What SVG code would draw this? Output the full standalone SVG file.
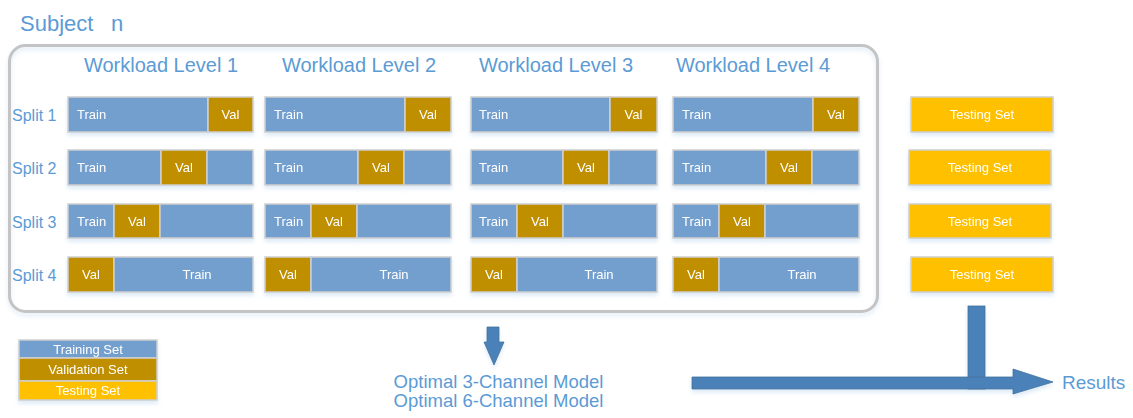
<svg xmlns="http://www.w3.org/2000/svg" width="1133" height="418" viewBox="0 0 1133 418">
<defs>
<filter id="sh" x="-10%" y="-20%" width="120%" height="160%">
<feDropShadow dx="0" dy="3" stdDeviation="2" flood-color="#9dc3e6" flood-opacity="0.35"/>
</filter>
<style>
.tr{fill:#739fcf;stroke:#cfcfcf;stroke-width:1.5}
.va{fill:#bf8f00;stroke:#cfcfcf;stroke-width:1.5}
.te{fill:#ffc000;stroke:#cfcfcf;stroke-width:1.5}
.bt{font-family:"Liberation Sans",Arial,sans-serif;font-size:13px;fill:#ffffff}
.lt{font-family:"Liberation Sans",Arial,sans-serif;fill:#5b9bd5}
.arr{fill:#4a81b8;stroke:#41719c;stroke-width:0.8}
</style>
</defs>
<rect width="1133" height="418" fill="#ffffff"/>

<g id="title" class="lt" font-size="22"><text x="20" y="31">Subject</text><text x="111" y="31">n</text></g>

<g id="container"><rect x="9.5" y="45.5" width="868" height="266" rx="16" fill="none" stroke="#c4c4c4" stroke-width="3" filter="url(#sh)"/></g>

<g id="level-headers" class="lt" font-size="20" text-anchor="middle">
<text x="161" y="72">Workload Level 1</text>
<text x="359" y="72">Workload Level 2</text>
<text x="556" y="72">Workload Level 3</text>
<text x="753" y="72">Workload Level 4</text>
</g>

<g id="split-labels" class="lt" font-size="16">
<text x="12" y="121">Split 1</text>
<text x="12" y="174">Split 2</text>
<text x="12" y="228">Split 3</text>
<text x="12" y="281">Split 4</text>
</g>

<!-- Level 1 -->
<g id="L1S1" filter="url(#sh)"><rect class="tr" x="68" y="97" width="140" height="35"/><rect class="va" x="208" y="97" width="45" height="35"/><text class="bt" x="77" y="119">Train</text><text class="bt" x="230.5" y="119" text-anchor="middle">Val</text></g>
<g id="L1S2" filter="url(#sh)"><rect class="tr" x="68" y="150" width="93" height="35"/><rect class="va" x="161" y="150" width="46" height="35"/><rect class="tr" x="207" y="150" width="46" height="35"/><text class="bt" x="77" y="172">Train</text><text class="bt" x="184" y="172" text-anchor="middle">Val</text></g>
<g id="L1S3" filter="url(#sh)"><rect class="tr" x="68" y="204" width="46" height="34"/><rect class="va" x="114" y="204" width="46" height="34"/><rect class="tr" x="160" y="204" width="93" height="34"/><text class="bt" x="77" y="226">Train</text><text class="bt" x="137" y="226" text-anchor="middle">Val</text></g>
<g id="L1S4" filter="url(#sh)"><rect class="va" x="68" y="257" width="46" height="35"/><rect class="tr" x="114" y="257" width="139" height="35"/><text class="bt" x="91" y="279" text-anchor="middle">Val</text><text class="bt" x="197" y="279" text-anchor="middle">Train</text></g>

<!-- Level 2 -->
<g id="L2S1" filter="url(#sh)"><rect class="tr" x="265" y="97" width="140" height="35"/><rect class="va" x="405" y="97" width="46" height="35"/><text class="bt" x="274" y="119">Train</text><text class="bt" x="428" y="119" text-anchor="middle">Val</text></g>
<g id="L2S2" filter="url(#sh)"><rect class="tr" x="265" y="150" width="93" height="35"/><rect class="va" x="358" y="150" width="46" height="35"/><rect class="tr" x="404" y="150" width="47" height="35"/><text class="bt" x="274" y="172">Train</text><text class="bt" x="381" y="172" text-anchor="middle">Val</text></g>
<g id="L2S3" filter="url(#sh)"><rect class="tr" x="265" y="204" width="46" height="34"/><rect class="va" x="311" y="204" width="46" height="34"/><rect class="tr" x="357" y="204" width="94" height="34"/><text class="bt" x="274" y="226">Train</text><text class="bt" x="334" y="226" text-anchor="middle">Val</text></g>
<g id="L2S4" filter="url(#sh)"><rect class="va" x="265" y="257" width="46" height="35"/><rect class="tr" x="311" y="257" width="140" height="35"/><text class="bt" x="288" y="279" text-anchor="middle">Val</text><text class="bt" x="394" y="279" text-anchor="middle">Train</text></g>

<!-- Level 3 -->
<g id="L3S1" filter="url(#sh)"><rect class="tr" x="471" y="97" width="139" height="35"/><rect class="va" x="610" y="97" width="47" height="35"/><text class="bt" x="479" y="119">Train</text><text class="bt" x="633.5" y="119" text-anchor="middle">Val</text></g>
<g id="L3S2" filter="url(#sh)"><rect class="tr" x="471" y="150" width="92" height="35"/><rect class="va" x="563" y="150" width="46" height="35"/><rect class="tr" x="609" y="150" width="48" height="35"/><text class="bt" x="479" y="172">Train</text><text class="bt" x="586" y="172" text-anchor="middle">Val</text></g>
<g id="L3S3" filter="url(#sh)"><rect class="tr" x="471" y="204" width="46" height="34"/><rect class="va" x="517" y="204" width="46" height="34"/><rect class="tr" x="563" y="204" width="94" height="34"/><text class="bt" x="479" y="226">Train</text><text class="bt" x="540" y="226" text-anchor="middle">Val</text></g>
<g id="L3S4" filter="url(#sh)"><rect class="va" x="471" y="257" width="46" height="35"/><rect class="tr" x="517" y="257" width="140" height="35"/><text class="bt" x="494" y="279" text-anchor="middle">Val</text><text class="bt" x="599" y="279" text-anchor="middle">Train</text></g>

<!-- Level 4 -->
<g id="L4S1" filter="url(#sh)"><rect class="tr" x="673" y="97" width="140" height="35"/><rect class="va" x="813" y="97" width="46" height="35"/><text class="bt" x="682" y="119">Train</text><text class="bt" x="836" y="119" text-anchor="middle">Val</text></g>
<g id="L4S2" filter="url(#sh)"><rect class="tr" x="673" y="150" width="93" height="35"/><rect class="va" x="766" y="150" width="46" height="35"/><rect class="tr" x="812" y="150" width="47" height="35"/><text class="bt" x="682" y="172">Train</text><text class="bt" x="789" y="172" text-anchor="middle">Val</text></g>
<g id="L4S3" filter="url(#sh)"><rect class="tr" x="673" y="204" width="46" height="34"/><rect class="va" x="719" y="204" width="46" height="34"/><rect class="tr" x="765" y="204" width="94" height="34"/><text class="bt" x="682" y="226">Train</text><text class="bt" x="742" y="226" text-anchor="middle">Val</text></g>
<g id="L4S4" filter="url(#sh)"><rect class="va" x="673" y="257" width="46" height="35"/><rect class="tr" x="719" y="257" width="140" height="35"/><text class="bt" x="696" y="279" text-anchor="middle">Val</text><text class="bt" x="802" y="279" text-anchor="middle">Train</text></g>

<!-- Testing sets -->
<g id="T1" filter="url(#sh)"><rect class="te" x="911" y="97" width="142" height="35"/><text class="bt" x="982" y="119" text-anchor="middle">Testing Set</text></g>
<g id="T2" filter="url(#sh)"><rect class="te" x="909" y="150" width="142" height="35"/><text class="bt" x="980" y="172" text-anchor="middle">Testing Set</text></g>
<g id="T3" filter="url(#sh)"><rect class="te" x="909" y="204" width="142" height="34"/><text class="bt" x="980" y="226" text-anchor="middle">Testing Set</text></g>
<g id="T4" filter="url(#sh)"><rect class="te" x="911" y="257" width="142" height="35"/><text class="bt" x="982" y="279" text-anchor="middle">Testing Set</text></g>

<!-- Legend -->
<g id="legend" filter="url(#sh)">
<rect class="tr" x="19" y="340" width="138" height="18"/>
<rect class="va" x="19" y="358" width="138" height="23"/>
<rect class="te" x="19" y="381" width="138" height="19"/>
<text class="bt" x="88" y="354" text-anchor="middle" font-size="12.5">Training Set</text>
<text class="bt" x="88" y="374" text-anchor="middle" font-size="12.5">Validation Set</text>
<text class="bt" x="88" y="395" text-anchor="middle" font-size="12.5">Testing Set</text>
</g>

<!-- Connectors -->
<g id="connectors" filter="url(#sh)">
<path class="arr" d="M487,327 H499 V342 H504 L494,365 L484,342 H487 Z"/>
<rect class="arr" x="968" y="306" width="17" height="83"/>
<path class="arr" d="M692,377 H1013 V369 L1053,382 L1013,394 V389 H692 Z"/>
</g>

<g id="model-text" class="lt" font-size="18.5" text-anchor="middle">
<text x="498.5" y="388">Optimal 3-Channel Model</text>
<text x="498.5" y="407">Optimal 6-Channel Model</text>
</g>
<g id="results"><text class="lt" x="1062" y="389" font-size="19">Results</text></g>
</svg>
